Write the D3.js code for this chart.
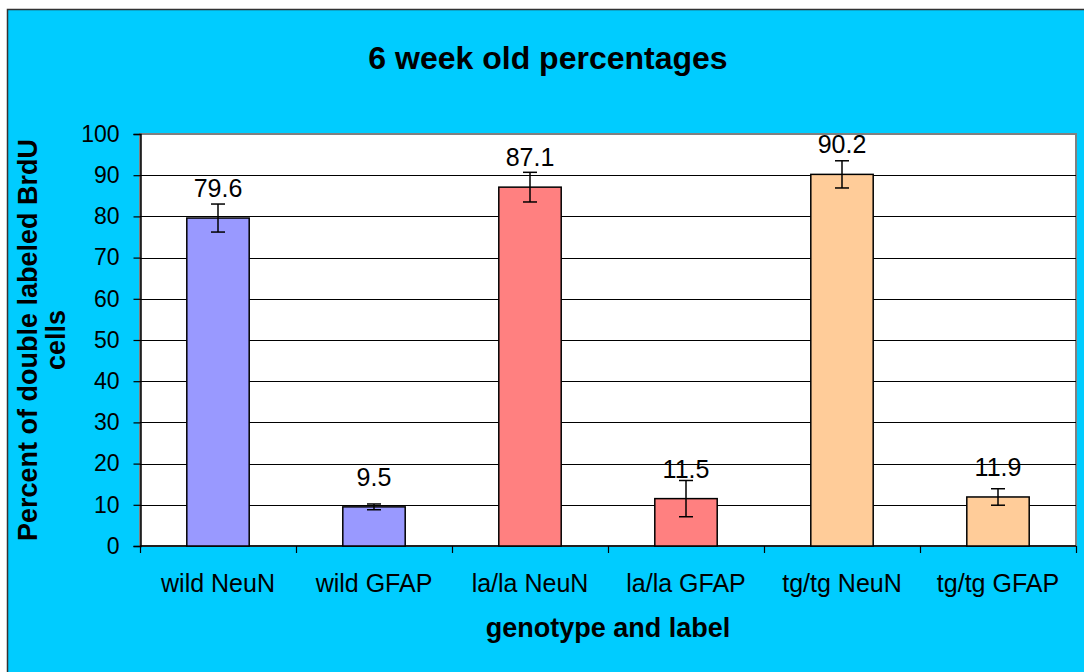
<!DOCTYPE html>
<html>
<head>
<meta charset="utf-8">
<script src="https://cdn.jsdelivr.net/npm/d3@7"></script>
<style>
  body { margin: 0; background: #fff; }
  svg { display: block; font-family: "Liberation Sans", Arial, sans-serif; }
</style>
</head>
<body>
<div id="chart"></div>
<script>
// data
var categories = ["wild NeuN", "wild GFAP", "la/la NeuN", "la/la GFAP", "tg/tg NeuN", "tg/tg GFAP"];
var values = [79.6, 9.5, 87.1, 11.5, 90.2, 11.9];
var errors = [3.4, 0.7, 3.6, 4.4, 3.3, 2.0];
var barColors = ["#9999FF", "#9999FF", "#FF8080", "#FF8080", "#FFCC99", "#FFCC99"];
var yTicks = [0, 10, 20, 30, 40, 50, 60, 70, 80, 90, 100];

function createChart() {
  var W = 1084, H = 672;
  var plot = { left: 140, top: 134, right: 1076, bottom: 546 };

  var svg = d3.select("#chart").append("svg")
    .attr("width", W)
    .attr("height", H);

  // background + outer border
  svg.append("rect")
    .attr("x", 7.5).attr("y", 9.5)
    .attr("width", W + 20).attr("height", H + 20)
    .attr("fill", "#00CCFF")
    .attr("stroke", "#333").attr("stroke-width", 1.5);

  var x = d3.scaleBand()
    .domain(categories)
    .range([plot.left, plot.right])
    .paddingInner(0.6)
    .paddingOuter(0.3);

  var y = d3.scaleLinear()
    .domain([0, 100])
    .range([plot.bottom, plot.top]);

  // plot area
  svg.append("rect")
    .attr("x", plot.left).attr("y", plot.top)
    .attr("width", plot.right - plot.left)
    .attr("height", plot.bottom - plot.top)
    .attr("fill", "#fff")
    .attr("stroke", "#808080").attr("stroke-width", 2);

  // gridlines
  svg.append("g")
    .selectAll("line")
    .data(yTicks.filter(d => d > 0 && d < 100))
    .enter().append("line")
    .attr("x1", plot.left).attr("x2", plot.right)
    .attr("y1", d => Math.round(y(d)) + 0.5)
    .attr("y2", d => Math.round(y(d)) + 0.5)
    .attr("stroke", "#000").attr("stroke-width", 1);

  // y axis
  var yAxis = svg.append("g")
    .attr("transform", "translate(" + (plot.left + 0.5) + ",0)")
    .call(d3.axisLeft(y).tickValues(yTicks).tickSize(7).tickPadding(14).tickFormat(d3.format("d")));
  yAxis.select(".domain").attr("stroke", "#000").attr("stroke-width", 1.5);
  yAxis.selectAll(".tick line").attr("stroke", "#000").attr("stroke-width", 1.2);
  yAxis.selectAll("text")
    .attr("font-size", 23)
    .attr("font-family", "Liberation Sans, Arial, sans-serif")
    .attr("fill", "#000");

  // x axis line + boundary ticks
  var step = x.step();
  var bounds = categories.map(c => x(c) - step * 0.3);
  bounds.push(plot.right);
  var xg = svg.append("g");
  xg.append("line")
    .attr("x1", plot.left).attr("x2", plot.right)
    .attr("y1", plot.bottom).attr("y2", plot.bottom)
    .attr("stroke", "#000").attr("stroke-width", 1.5);
  xg.selectAll("line.tk")
    .data(bounds)
    .enter().append("line")
    .attr("class", "tk")
    .attr("x1", d => Math.round(d) + 0.5).attr("x2", d => Math.round(d) + 0.5)
    .attr("y1", plot.bottom).attr("y2", plot.bottom + 7)
    .attr("stroke", "#000").attr("stroke-width", 1.2);
  xg.selectAll("text")
    .data(categories)
    .enter().append("text")
    .attr("x", d => x(d) + x.bandwidth() / 2)
    .attr("y", 592)
    .attr("text-anchor", "middle")
    .attr("font-size", 25)
    .text(d => d);

  // bars
  svg.append("g")
    .selectAll("rect")
    .data(values)
    .enter().append("rect")
    .attr("x", (d, i) => x(categories[i]))
    .attr("y", d => y(d))
    .attr("width", x.bandwidth())
    .attr("height", d => plot.bottom - y(d))
    .attr("fill", (d, i) => barColors[i])
    .attr("stroke", "#000").attr("stroke-width", 1.5);

  // error bars
  var cap = 7;
  var eg = svg.append("g").attr("stroke", "#000").attr("stroke-width", 1.5);
  values.forEach(function (v, i) {
    var cx = x(categories[i]) + x.bandwidth() / 2;
    var hi = y(v + errors[i]), lo = y(v - errors[i]);
    eg.append("line").attr("x1", cx).attr("x2", cx).attr("y1", hi).attr("y2", lo);
    eg.append("line").attr("x1", cx - cap).attr("x2", cx + cap).attr("y1", hi).attr("y2", hi);
    eg.append("line").attr("x1", cx - cap).attr("x2", cx + cap).attr("y1", lo).attr("y2", lo);
  });

  // value labels
  svg.append("g")
    .selectAll("text")
    .data(values)
    .enter().append("text")
    .attr("x", (d, i) => x(categories[i]) + x.bandwidth() / 2)
    .attr("y", d => y(d) - 21)
    .attr("text-anchor", "middle")
    .attr("font-size", 25)
    .text(d => d.toFixed(1));

  // titles
  svg.append("text")
    .attr("x", 548).attr("y", 69)
    .attr("text-anchor", "middle")
    .attr("font-size", 32).attr("font-weight", "bold")
    .text("6 week old percentages");

  svg.append("text")
    .attr("x", (plot.left + plot.right) / 2).attr("y", 637)
    .attr("text-anchor", "middle")
    .attr("font-size", 27).attr("font-weight", "bold")
    .text("genotype and label");

  var yt = svg.append("text")
    .attr("transform", "translate(37," + (plot.top + plot.bottom) / 2 + ") rotate(-90)")
    .attr("text-anchor", "middle")
    .attr("font-size", 27).attr("font-weight", "bold");
  yt.append("tspan").attr("x", 0).attr("y", 0).text("Percent of double labeled BrdU");
  yt.append("tspan").attr("x", 0).attr("y", 28).text("cells");
}

createChart();
</script>
</body>
</html>
